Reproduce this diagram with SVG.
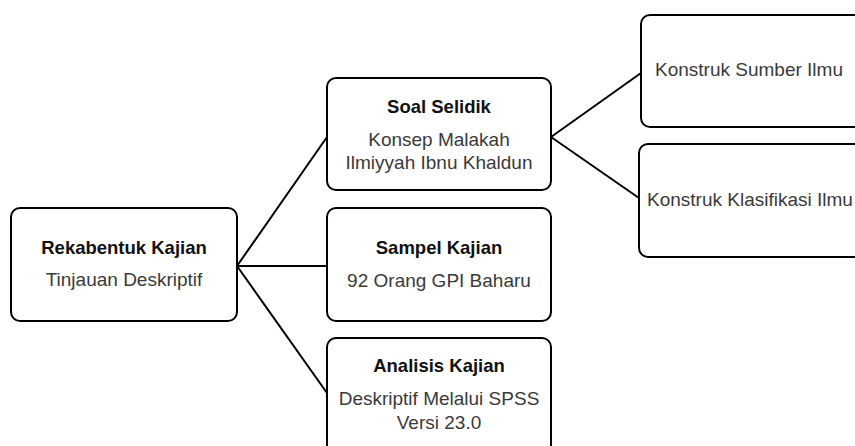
<svg xmlns="http://www.w3.org/2000/svg" width="855" height="446" viewBox="0 0 855 446">
<style>
.box{fill:#fff;stroke:#000;stroke-width:2}
.conn{stroke:#000;stroke-width:2;fill:none}
text{font-family:"Liberation Sans",Arial,sans-serif;font-size:19px}
.b{font-weight:bold;font-size:18.5px;fill:#111;text-anchor:middle}
.r{fill:#3a3a3a;text-anchor:middle}
.s{fill:#3a3a3a;text-anchor:start}
</style>
<rect width="855" height="446" fill="#fff"/>
<g id="connectors">
<line class="conn" x1="237" y1="266" x2="327" y2="137"/>
<line class="conn" x1="237" y1="266" x2="327" y2="266"/>
<line class="conn" x1="237" y1="266" x2="327" y2="393"/>
<line class="conn" x1="551" y1="137" x2="641" y2="73"/>
<line class="conn" x1="551" y1="137" x2="639" y2="198"/>
</g>
<g id="rekabentuk">
<rect class="box" x="11" y="208" width="226" height="113" rx="9"/>
<text class="b" x="124" y="254">Rekabentuk Kajian</text>
<text class="r" x="124" y="286">Tinjauan Deskriptif</text>
</g>
<g id="soal">
<rect class="box" x="327" y="78" width="224" height="112" rx="9"/>
<text class="b" x="439" y="113">Soal Selidik</text>
<text class="r" x="439" y="146">Konsep Malakah</text>
<text class="r" x="439" y="169">Ilmiyyah Ibnu Khaldun</text>
</g>
<g id="sampel">
<rect class="box" x="327" y="208" width="224" height="113" rx="9"/>
<text class="b" x="439" y="254">Sampel Kajian</text>
<text class="r" x="439" y="287">92 Orang GPI Baharu</text>
</g>
<g id="analisis">
<rect class="box" x="327" y="338" width="224" height="120" rx="9"/>
<text class="b" x="439" y="372">Analisis Kajian</text>
<text class="r" x="439" y="405">Deskriptif Melalui SPSS</text>
<text class="r" x="439" y="429">Versi 23.0</text>
</g>
<g id="sumber">
<rect class="box" x="641" y="15" width="240" height="112" rx="9"/>
<text class="s" x="655" y="76">Konstruk Sumber Ilmu</text>
</g>
<g id="klasifikasi">
<rect class="box" x="639" y="144" width="240" height="113" rx="9"/>
<text class="s" x="647" y="206">Konstruk Klasifikasi Ilmu</text>
</g>
</svg>
